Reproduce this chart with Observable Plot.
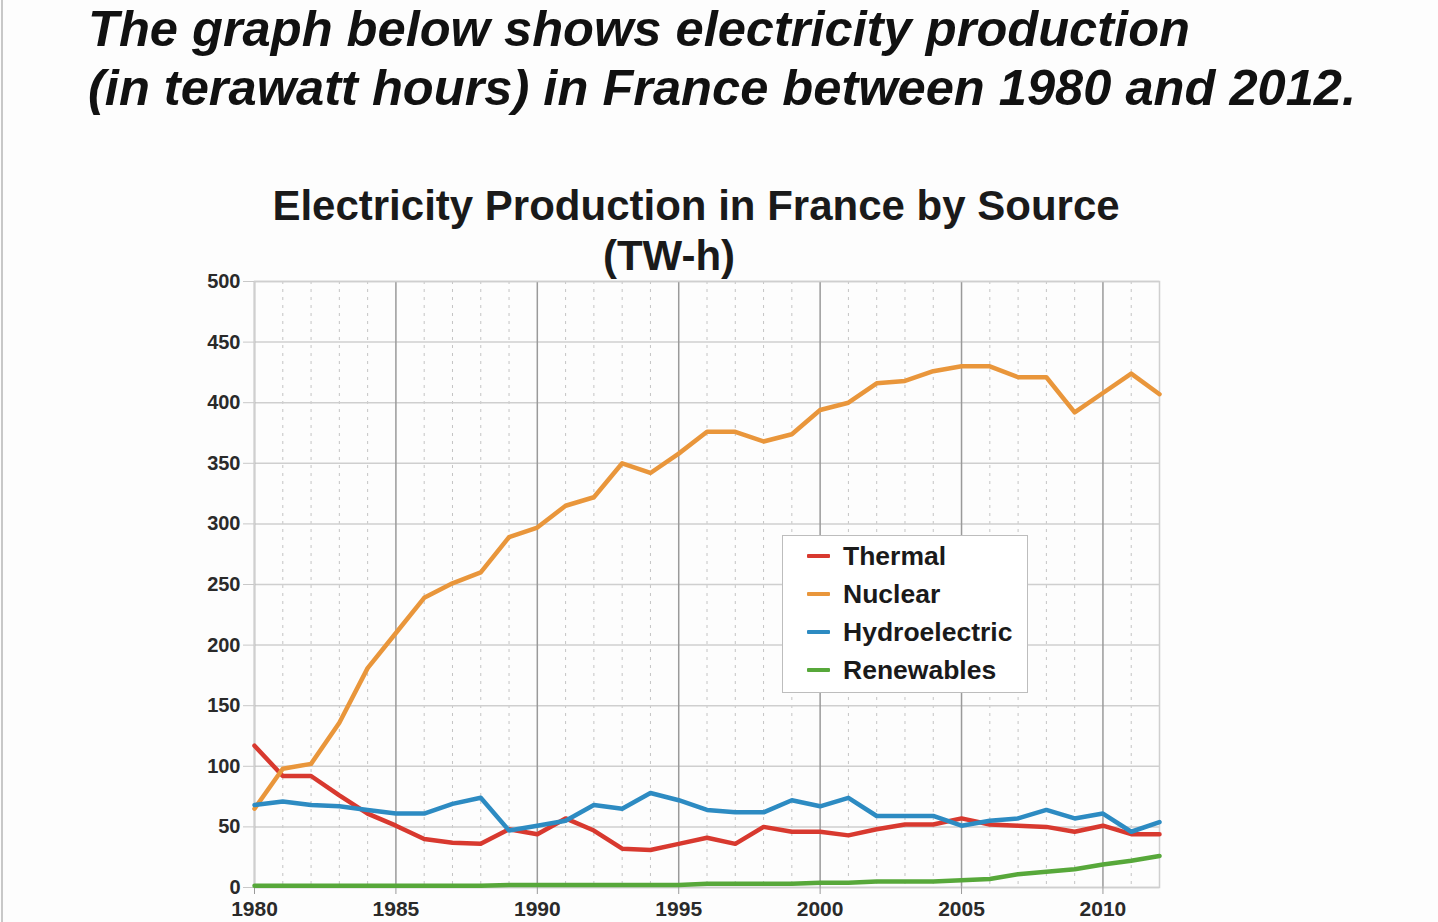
<!DOCTYPE html>
<html>
<head>
<meta charset="utf-8">
<script src="https://cdn.jsdelivr.net/npm/d3@7"></script>
<script src="https://cdn.jsdelivr.net/npm/@observablehq/plot@0.6"></script>
<style>
  html, body { margin: 0; padding: 0; background: #fdfdfd; }
  body { width: 1438px; height: 922px; position: relative; overflow: hidden;
         font-family: "Liberation Sans", Arial, Helvetica, sans-serif; }
  #edge { position: absolute; left: 1px; top: 0; width: 2px; height: 922px; background: #c8c8c8; }
  #headline { position: absolute; left: 88px; top: -1px; font-size: 50.6px; font-weight: bold;
              font-style: italic; line-height: 59px; color: #111; white-space: nowrap; }
  .ct { position: absolute; text-align: center; font-size: 42px; font-weight: bold;
        line-height: 50px; color: #1a1a1a; white-space: nowrap; transform: translateX(-50%); }
  #ct1 { left: 696px; top: 181px; }
  #ct2 { left: 669px; top: 231px; }
  #chart { position: absolute; left: 0; top: 270px; }
  #legend { position: absolute; left: 782px; top: 535px; width: 246px; height: 158px;
            background: #fff; border: 1px solid #bdbdbd; box-sizing: border-box; }
  .item { position: absolute; left: 24px; height: 30px; display: flex; align-items: center; }
  .sw { width: 23px; height: 4.5px; border-radius: 1px; margin-right: 13px; }
  .lab { font-size: 26.5px; font-weight: bold; color: #1a1a1a; }
</style>
</head>
<body>
<div id="edge"></div>
<div id="headline">The graph below shows electricity production<br>(in terawatt hours) in France between 1980 and 2012.</div>
<div class="ct" id="ct1">Electricity Production in France by Source</div>
<div class="ct" id="ct2">(TW-h)</div>
<div id="chart"></div>
<div id="legend"></div>
<script>
const years = [1980,1981,1982,1983,1984,1985,1986,1987,1988,1989,1990,1991,1992,1993,1994,1995,1996,1997,1998,1999,2000,2001,2002,2003,2004,2005,2006,2007,2008,2009,2010,2011,2012];
const seriesNames = ["Thermal", "Nuclear", "Hydroelectric", "Renewables"];
const thermal = [117,92,92,76,61,51,40,37,36,48,44,57,47,32,31,36,41,36,50,46,46,43,48,52,52,57,52,51,50,46,51,44,44];
const nuclear = [65,98,102,136,181,210,239,251,260,289,297,315,322,350,342,358,376,376,368,374,394,400,416,418,426,430,430,421,421,392,408,424,407];
const hydro = [68,71,68,67,64,61,61,69,74,47,51,55,68,65,78,72,64,62,62,72,67,74,59,59,59,51,55,57,64,57,61,46,54];
const renewables = [1.5,1.5,1.5,1.5,1.5,1.5,1.5,1.5,1.5,2,2,2,2,2,2,2,3,3,3,3,4,4,5,5,5,6,7,11,13,15,19,22,26];
const yTicks = [0,50,100,150,200,250,300,350,400,450,500];
const xTicks = [1980,1985,1990,1995,2000,2005,2010];
const colors = ["#d8392f", "#e9963b", "#2d8bc2", "#57a83a"];

const valuesBySeries = [thermal, nuclear, hydro, renewables];
const data = seriesNames.flatMap((name, i) =>
  years.map((year, j) => ({series: name, year, value: valuesBySeries[i][j]})));
const minorYears = years.filter(y => !xTicks.includes(y));

const chart = Plot.plot({
  width: 1438,
  height: 652,
  marginLeft: 254,
  marginRight: 279,
  marginTop: 11,
  marginBottom: 35,
  style: {background: "transparent", fontFamily: "'Liberation Sans', Arial, sans-serif"},
  x: {domain: [1980, 2012]},
  y: {domain: [0, 500]},
  color: {domain: seriesNames, range: colors},
  marks: [
    Plot.ruleX(minorYears, {stroke: "#c4c4c4", strokeDasharray: "3,5", strokeWidth: 1}),
    Plot.gridY({ticks: yTicks, stroke: "#cfcfcf", strokeOpacity: 1, strokeWidth: 1.5}),
    Plot.ruleX(xTicks, {stroke: "#9a9a9a", strokeWidth: 1.5}),
    Plot.frame({stroke: "#cfcfcf", strokeWidth: 1.5}),
    Plot.axisY({ticks: yTicks, tickSize: 11, tickPadding: 3, stroke: "#c8c8c8", fill: "#2a2a2a",
                fontSize: 20, fontWeight: "bold", label: null}),
    Plot.axisX({ticks: xTicks, tickFormat: "d", tickSize: 7, tickPadding: 7, stroke: "#9a9a9a",
                fill: "#2a2a2a", fontSize: 21, fontWeight: "bold", label: null}),
    Plot.line(data, {x: "year", y: "value", stroke: "series", strokeWidth: 4.5, strokeLinejoin: "round"})
  ]
});
document.getElementById("chart").appendChild(chart);

const legend = document.getElementById("legend");
seriesNames.forEach((name, i) => {
  const item = document.createElement("div");
  item.className = "item";
  item.style.top = (5 + i * 38) + "px";
  const sw = document.createElement("div");
  sw.className = "sw";
  sw.style.background = colors[i];
  const lab = document.createElement("div");
  lab.className = "lab";
  lab.textContent = name;
  item.appendChild(sw);
  item.appendChild(lab);
  legend.appendChild(item);
});
</script>
</body>
</html>
